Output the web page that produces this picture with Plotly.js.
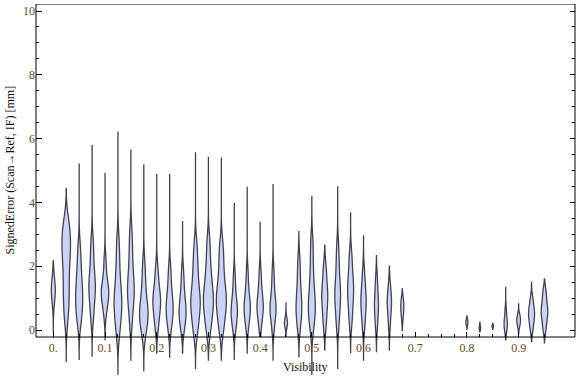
<!DOCTYPE html>
<html>
<head>
<meta charset="utf-8">
<script src="https://cdn.plot.ly/plotly-3.0.1.min.js"></script>
<style>html,body{margin:0;padding:0;background:#fff;}#chart{width:576px;height:377px;}</style>
</head>
<body>
<div id="chart"></div>
<script>
// Visibility bins (category positions)
const visibility = [0, 0.025, 0.05, 0.075, 0.1, 0.125, 0.15, 0.175, 0.2, 0.225, 0.25, 0.275, 0.3, 0.325,
  0.35, 0.375, 0.4, 0.425, 0.45, 0.475, 0.5, 0.525, 0.55, 0.575, 0.6, 0.625, 0.65, 0.675,
  0.8, 0.825, 0.85, 0.875, 0.9, 0.925, 0.95];

// Signed error samples (bulk of each distribution)
const samples = [
  [0.75, 0.95, 1.1, 1.2, 1.25, 1.3, 1.4, 1.55, 1.75],
  [0.3, 0.7, 1.0, 1.3, 1.6, 1.9, 2.2, 2.4, 2.6, 2.8, 3.0, 3.2, 3.45],
  [0.2, 0.5, 0.7, 0.9, 1.1, 1.3, 1.5, 1.8, 2.15, 2.6],
  [0.35, 0.7, 1.0, 1.2, 1.35, 1.5, 1.7, 2.0, 2.4, 2.8],
  [0.5, 0.8, 1.0, 1.1, 1.2, 1.3, 1.45, 1.75, 2.2],
  [-0.1, 0.2, 0.5, 0.7, 0.85, 1.0, 1.2, 1.5, 1.85, 2.3, 2.8],
  [0.2, 0.6, 0.9, 1.1, 1.25, 1.4, 1.6, 1.9, 2.25, 2.65, 3.1],
  [-0.15, 0.1, 0.3, 0.4, 0.5, 0.65, 0.8, 1.0, 1.3, 1.65, 2.1],
  [0.05, 0.3, 0.55, 0.75, 0.85, 0.95, 1.1, 1.3, 1.55, 1.95],
  [0.0, 0.25, 0.45, 0.6, 0.7, 0.85, 1.0, 1.25, 1.55, 1.95],
  [0.0, 0.2, 0.4, 0.5, 0.6, 0.75, 0.9, 1.15, 1.45, 1.85],
  [-0.1, 0.2, 0.45, 0.65, 0.8, 0.95, 1.1, 1.3, 1.6, 1.9, 2.25, 2.7],
  [-0.05, 0.25, 0.5, 0.7, 0.85, 1.0, 1.15, 1.35, 1.6, 1.9, 2.3, 2.8],
  [-0.05, 0.25, 0.5, 0.7, 0.85, 1.0, 1.15, 1.35, 1.6, 1.95, 2.3, 2.7],
  [0.0, 0.2, 0.4, 0.5, 0.6, 0.7, 0.85, 1.05, 1.35, 1.75],
  [0.05, 0.3, 0.5, 0.6, 0.7, 0.8, 0.95, 1.15, 1.45, 1.85],
  [0.1, 0.35, 0.55, 0.65, 0.75, 0.85, 1.0, 1.2, 1.5, 1.85],
  [0.0, 0.3, 0.5, 0.6, 0.7, 0.8, 0.95, 1.2, 1.5, 1.9],
  [0.05, 0.15, 0.2, 0.25, 0.3, 0.42],
  [0.0, 0.3, 0.5, 0.65, 0.8, 1.0, 1.2, 1.5, 1.85, 2.25],
  [0.0, 0.3, 0.5, 0.65, 0.8, 1.0, 1.2, 1.5, 1.85, 2.3, 2.8],
  [0.1, 0.4, 0.7, 0.9, 1.05, 1.2, 1.4, 1.7, 2.0],
  [0.1, 0.4, 0.7, 0.9, 1.05, 1.2, 1.35, 1.6, 1.9, 2.25, 2.65],
  [0.2, 0.5, 0.8, 1.0, 1.2, 1.35, 1.5, 1.75, 2.05, 2.4],
  [0.05, 0.35, 0.6, 0.8, 0.9, 1.05, 1.25, 1.5, 1.85],
  [0.05, 0.3, 0.55, 0.7, 0.8, 0.95, 1.15, 1.4, 1.7],
  [0.1, 0.4, 0.65, 0.8, 0.9, 1.0, 1.2, 1.45],
  [0.3, 0.5, 0.6, 0.7, 0.8, 0.9, 1.02],
  [0.15, 0.2, 0.24, 0.28, 0.33],
  [0.0, 0.04, 0.07, 0.1, 0.14],
  [0.08, 0.11, 0.13, 0.16],
  [-0.05, 0.05, 0.15, 0.2, 0.25, 0.35, 0.5, 0.68],
  [0.1, 0.2, 0.28, 0.33, 0.4, 0.5],
  [0.0, 0.2, 0.35, 0.45, 0.55, 0.65, 0.8, 1.0],
  [0.0, 0.2, 0.4, 0.5, 0.6, 0.7, 0.85, 1.05, 1.25]
];

// Extreme values (min / max) of each distribution
const minError = [-0.1, -0.99, -0.94, -0.84, -0.3, -1.38, -0.94, -1.3, -0.72, -0.85, -0.72, -1.2, -0.94, -0.94,
  -0.94, -0.72, -0.2, -0.94, -0.2, -0.84, -1.41, -0.63, -1.2, -0.71, -0.94, -0.68, -0.63, -0.02,
  0.02, -0.06, 0.02, -0.31, -0.12, -0.37, -0.4];
const maxError = [2.17, 4.44, 5.22, 5.8, 4.93, 6.22, 5.66, 5.2, 4.89, 4.89, 3.42, 5.57, 5.43, 5.41,
  3.99, 4.49, 3.39, 4.58, 0.86, 3.08, 4.2, 2.66, 4.51, 3.69, 2.97, 2.33, 2.0, 1.29,
  0.44, 0.25, 0.21, 1.36, 0.82, 1.5, 1.6];

// Kernel bandwidths
const bandwidth = [0.26, 0.38, 0.34, 0.34, 0.28, 0.4, 0.38, 0.34, 0.3, 0.3, 0.3, 0.34, 0.34, 0.34,
  0.28, 0.28, 0.28, 0.28, 0.1, 0.3, 0.34, 0.3, 0.34, 0.3, 0.3, 0.27, 0.27, 0.15,
  0.06, 0.05, 0.035, 0.15, 0.1, 0.17, 0.18];

// Tick labels
const xTickVals = [0, 0.1, 0.2, 0.3, 0.4, 0.5, 0.6, 0.7, 0.8, 0.9];
const xTickText = ['0.', '0.1', '0.2', '0.3', '0.4', '0.5', '0.6', '0.7', '0.8', '0.9'];
const yTickVals = [0, 2, 4, 6, 8, 10];

// ---- styling / geometry ----
const violinWidthPx = [4, 8.5, 7, 6.5, 7.5, 7.7, 6.7, 8.5, 7.7, 7, 7, 9.5, 10, 10,
  6.3, 6.3, 6.3, 6, 3, 5.7, 7, 6, 5.7, 6, 5.3, 4, 4.3, 3,
  2, 1.5, 1.5, 3.3, 3.7, 6, 6.7];
const W = 576, H = 377;
const M = {l: 36, r: 1, t: 4, b: 0};
const xRange = [-0.0335, 1.009];
const yRange = [-1.473, 10.22];
const frameBottom = -0.22, frameTop = 10.22;
const pxPerX = (W - M.l - M.r) / (xRange[1] - xRange[0]);
const axisPos = (frameBottom - yRange[0]) / (yRange[1] - yRange[0]);
const serif = 'Liberation Serif, Times New Roman, serif';
const tickColor = '#6a4820';

const traces = visibility.map((v, i) => ({
  type: 'violin',
  x0: v,
  y: samples[i],
  name: String(v),
  spanmode: 'manual',
  span: [minError[i], maxError[i]],
  bandwidth: bandwidth[i],
  width: violinWidthPx[i] / pxPerX,
  scalemode: 'width',
  points: false,
  box: {visible: false},
  meanline: {visible: false},
  fillcolor: 'rgb(204,211,245)',
  line: {color: 'rgb(66,66,78)', width: 1.3},
  hoverinfo: 'skip',
  showlegend: false
}));

const minorX = [];
for (let k = 1; k <= 38; k++) { const t = +(k * 0.025).toFixed(3); if (k % 4 !== 0) minorX.push(t); }
const minorY = [];
for (let k = 1; k < 20; k++) { if (k % 4 !== 0) minorY.push(k * 0.5); }

const layout = {
  width: W, height: H,
  margin: M,
  paper_bgcolor: '#fff', plot_bgcolor: '#fff',
  showlegend: false,
  violinmode: 'overlay',
  xaxis: {
    range: xRange, anchor: 'free', position: axisPos,
    showgrid: false, zeroline: false, showline: false,
    tickmode: 'array', tickvals: xTickVals, ticktext: xTickText,
    ticks: 'inside', ticklen: 5, tickwidth: 1, tickcolor: '#000',
    mirror: 'ticks', ticklabelstandoff: 2,
    minor: {tickmode: 'array', tickvals: minorX, ticks: 'inside', ticklen: 3.5, tickwidth: 1, tickcolor: '#000', showgrid: false},
    tickfont: {family: serif, size: 12, color: tickColor}
  },
  yaxis: {
    range: yRange,
    showgrid: false, zeroline: false, showline: false,
    tickmode: 'array', tickvals: yTickVals,
    ticks: 'inside', ticklen: 5.5, tickwidth: 1, tickcolor: '#000',
    mirror: 'ticks',
    minor: {tickmode: 'array', tickvals: minorY, ticks: 'inside', ticklen: 3.3, tickwidth: 1, tickcolor: '#000', showgrid: false},
    tickfont: {family: serif, size: 12, color: tickColor}
  },
  shapes: [{
    type: 'rect', xref: 'paper', yref: 'y', x0: 0, x1: 1, y0: frameBottom, y1: frameTop,
    line: {color: '#000', width: 1}, fillcolor: 'rgba(0,0,0,0)', layer: 'above'
  }],
  annotations: [
    {text: 'Visibility', xref: 'paper', yref: 'paper', x: 0.5, y: (H - 367) / (H - M.t - M.b),
      xanchor: 'center', yanchor: 'middle', showarrow: false, font: {family: serif, size: 12, color: '#111'}},
    {text: 'SignedError (Scan\u2192Ref, IF) [mm]', xref: 'paper', yref: 'paper',
      x: (9 - M.l) / (W - M.l - M.r), y: (H - 170.5) / (H - M.t - M.b), textangle: -90,
      xanchor: 'center', yanchor: 'middle', showarrow: false, font: {family: serif, size: 12, color: '#111'}}
  ]
};

Plotly.newPlot('chart', traces, layout, {staticPlot: true, displayModeBar: false});
</script>
</body>
</html>
